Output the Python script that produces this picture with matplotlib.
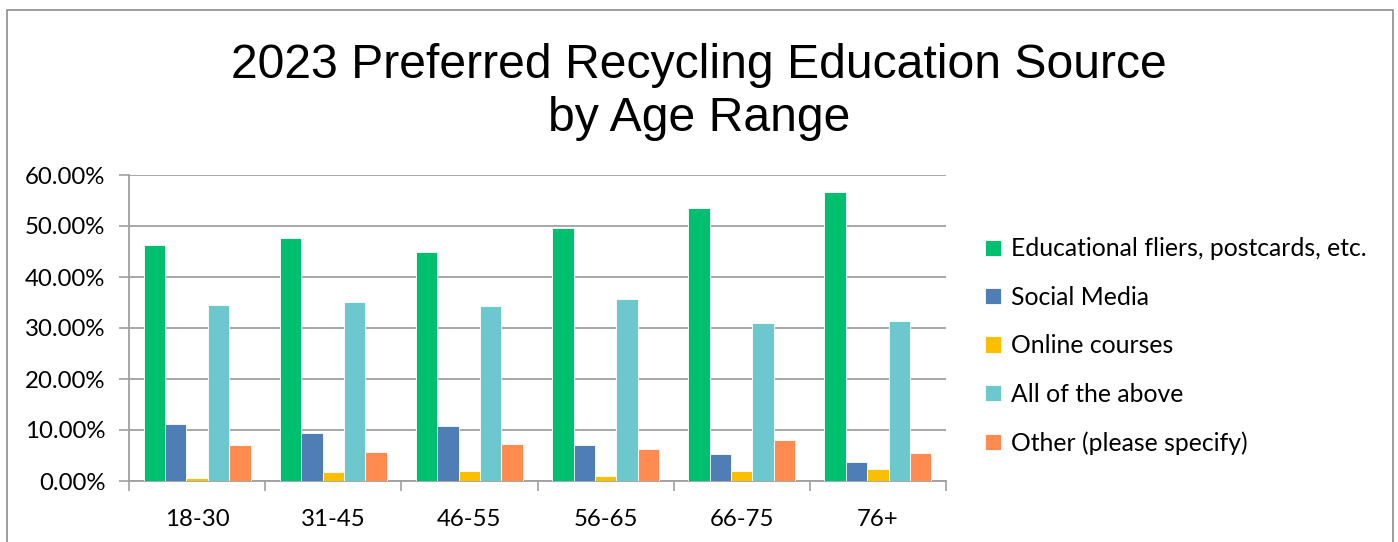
import numpy as np
import matplotlib.pyplot as plt
from matplotlib.patches import Rectangle
from matplotlib.ticker import PercentFormatter

# Data
age_ranges = ['18-30', '31-45', '46-55', '56-65', '66-75', '76+']
series_names = ['Educational fliers, postcards, etc.', 'Social Media',
                'Online courses', 'All of the above', 'Other (please specify)']
fliers = [46.2, 47.6, 45.0, 49.6, 53.5, 56.6]
social = [11.1, 9.4, 10.8, 7.1, 5.2, 3.7]
online = [0.5, 1.8, 2.0, 0.9, 1.9, 2.4]
all_above = [34.6, 35.1, 34.4, 35.7, 30.9, 31.4]
other = [7.1, 5.6, 7.3, 6.3, 8.0, 5.4]

colors = ['#00BF6F', '#4F7DB6', '#FBBF00', '#6CC8CC', '#FF8B50']
values = [fliers, social, online, all_above, other]

W, H, DPI = 1398, 542, 100
fig = plt.figure(figsize=(W / DPI, H / DPI), dpi=DPI)

# plot area in pixels: x 129..946, y 175..481
left, right, top, bottom = 129, 946, 175, 481
ax = fig.add_axes([left / W, 1 - bottom / H, (right - left) / W, (bottom - top) / H])

x = np.arange(len(age_ranges))
bw = 0.157
for i, (name, vals, c) in enumerate(zip(series_names, values, colors)):
    ax.bar(x + (i - 2) * bw, np.array(vals) / 100, width=bw, color=c,
           edgecolor='white', linewidth=0.6, label=name, zorder=3)

ax.set_xlim(-0.5, len(age_ranges) - 0.5)
ax.set_ylim(0, 0.6)
ax.set_yticks(np.arange(0, 0.61, 0.1))
ax.yaxis.set_major_formatter(PercentFormatter(1.0, decimals=2))
ax.set_xticks(x)
ax.set_xticklabels(age_ranges)
ax.set_xticks(np.arange(-0.5, len(age_ranges), 1), minor=True)
ax.tick_params(axis='x', which='major', length=0, pad=20)
ax.tick_params(axis='x', which='minor', length=7, color='#A0A0A0', width=1.2)
ax.tick_params(axis='y', length=7, color='#A0A0A0', width=1.2, pad=10)
for lab in ax.get_xticklabels() + ax.get_yticklabels():
    lab.set_fontfamily('Lato')
    lab.set_fontsize(17.3)

ax.grid(axis='y', color='#A0A0A0', linewidth=1.3, zorder=0)
for s in ['top', 'right']:
    ax.spines[s].set_visible(False)
for s in ['left', 'bottom']:
    ax.spines[s].set_color('#A0A0A0')
    ax.spines[s].set_linewidth(1.3)

fig.text(0.5, 1 - 92 / H, '2023 Preferred Recycling Education Source\nby Age Range',
         ha='center', va='center', fontsize=34.7, family='Liberation Sans',
         linespacing=1.22)

leg = fig.legend(loc='center left', bbox_to_anchor=(968 / W, 1 - 346 / H),
                 frameon=False, prop={'family': 'Lato', 'size': 17.8},
                 handlelength=0.62, handleheight=0.62, handletextpad=0.4,
                 labelspacing=1.03, borderpad=0.2)

# outer chart border
fig.patches.append(Rectangle((7 / W, -0.05), (1393 - 7) / W, 1.05 - 10 / H,
                             transform=fig.transFigure, fill=False,
                             edgecolor='#8C8C8C', linewidth=1.2))

fig.savefig('out.png', dpi=DPI, facecolor='white')
